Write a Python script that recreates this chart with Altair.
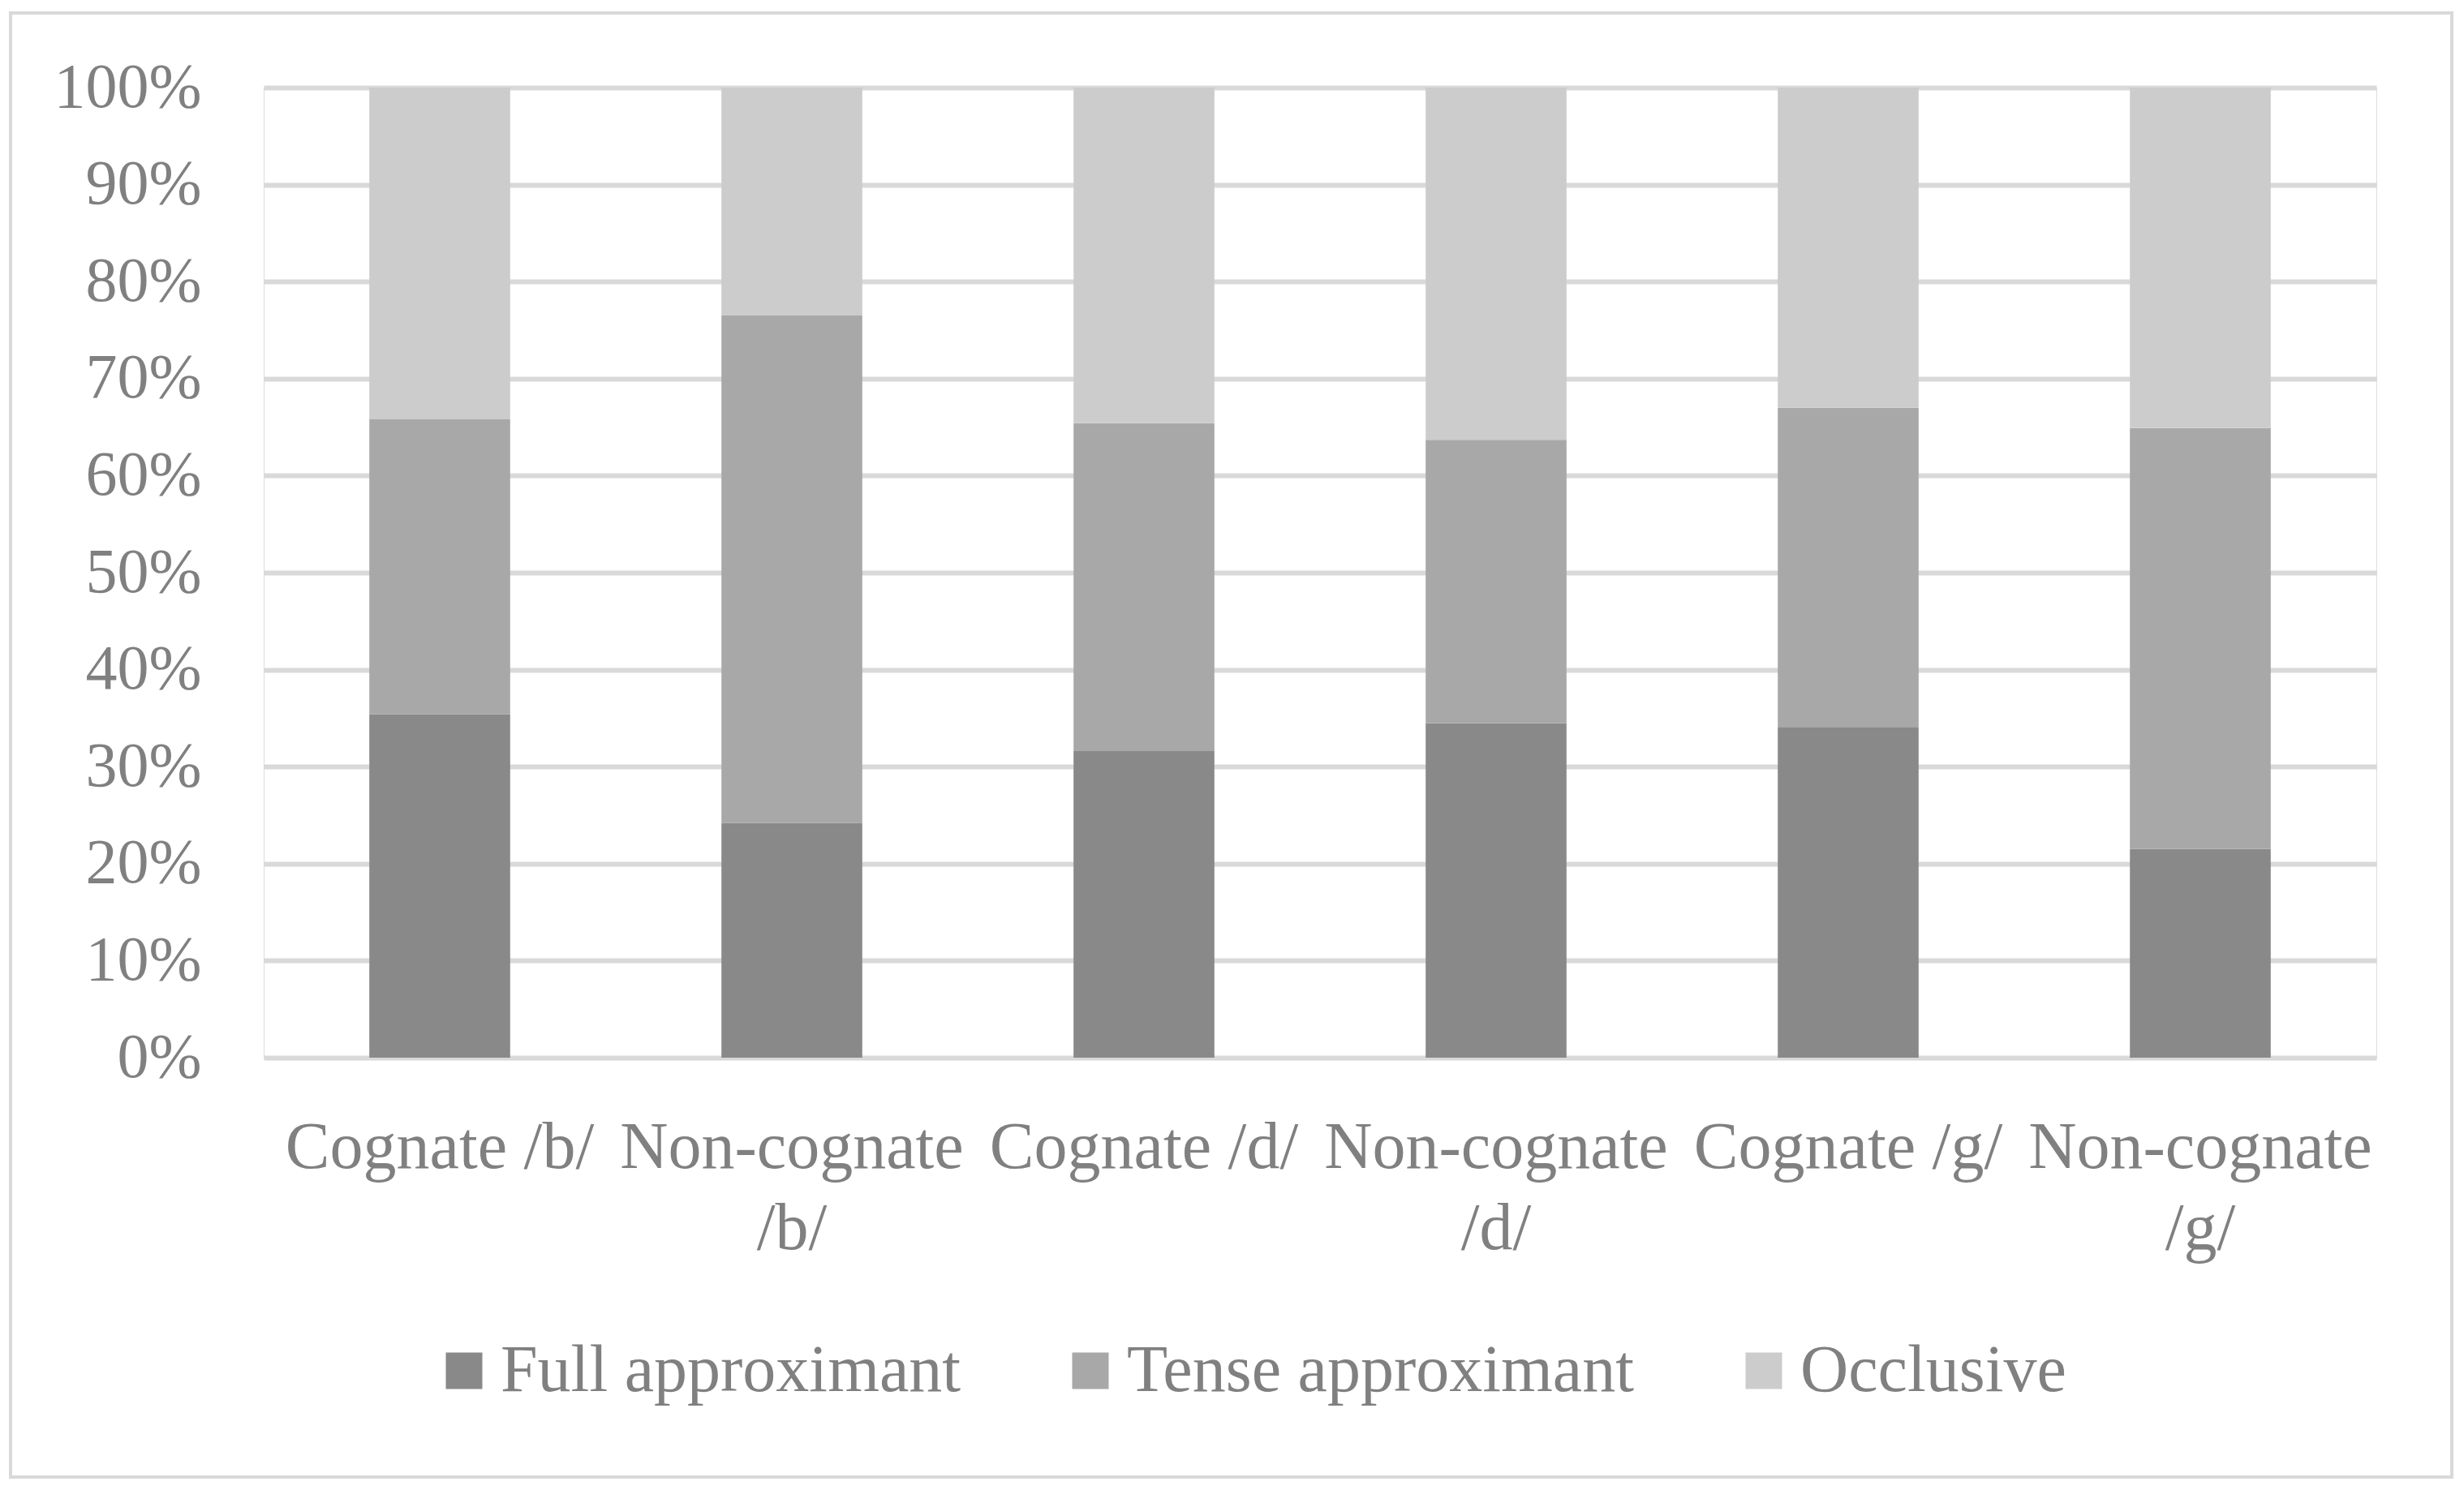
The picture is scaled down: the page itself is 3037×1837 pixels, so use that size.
import altair as alt
import pandas as pd

categories = ["Cognate /b/", "Non-cognate /b/", "Cognate /d/", "Non-cognate /d/", "Cognate /g/", "Non-cognate /g/"]
series = ["Full approximant", "Tense approximant", "Occlusive"]
full_approximant = [35.4, 24.2, 31.6, 34.5, 34.1, 21.5]
tense_approximant = [30.4, 52.3, 33.8, 29.2, 32.9, 43.4]
occlusive = [34.2, 23.5, 34.6, 36.3, 33.0, 35.1]
colors = ["#898989", "#a8a8a8", "#cccccc"]
y_ticks = [0, 10, 20, 30, 40, 50, 60, 70, 80, 90, 100]

rows = []
for s_idx, (name, vals) in enumerate(zip(series, [full_approximant, tense_approximant, occlusive])):
    for cat, v in zip(categories, vals):
        rows.append({"category": cat, "series": name, "value": v, "order": s_idx})
df = pd.DataFrame(rows)

FONT = "Liberation Serif"
TXT = "#808080"
GRID = "#d9d9d9"

bars = alt.Chart(df).mark_bar(stroke=None).encode(
    x=alt.X("category:N", sort=categories,
            scale=alt.Scale(paddingInner=0.6, paddingOuter=0.3),
            axis=alt.Axis(title=None, labelAngle=0, domain=False, ticks=False,
                          labelFont=FONT, labelFontSize=82, labelColor=TXT,
                          labelPadding=70, labelLineHeight=100, labelOverlap=False,
                          labelLimit=1000,
                          labelExpr="indexof(datum.label, 'Non-') == 0 ? split(datum.label, ' ') : datum.label")),
    y=alt.Y("value:Q", stack="zero",
            scale=alt.Scale(domain=[0, 100], nice=False),
            axis=alt.Axis(title=None, values=y_ticks, domain=False, ticks=False,
                          grid=True, gridColor=GRID, gridWidth=6,
                          labelFont=FONT, labelFontSize=78, labelColor=TXT,
                          labelPadding=77, labelLimit=1000,
                          labelExpr="datum.value + '%'")),
    color=alt.Color("series:N", sort=series,
                    scale=alt.Scale(domain=series, range=colors),
                    legend=alt.Legend(title=None, orient="none", direction="horizontal",
                                      legendX=206, legendY=1541, padding=0,
                                      symbolType="square", symbolSize=2025,
                                      symbolStrokeWidth=0, labelOffset=4,
                                      columnPadding=118,
                                      labelFont=FONT, labelFontSize=82, labelColor=TXT,
                                      labelLimit=1000)),
    order=alt.Order("order:Q", sort="ascending"),
)

frame = alt.Chart(alt.Data(values=[{"a": 1}])).mark_rect(
    fill=None, stroke=GRID, strokeWidth=4
).encode(
    x=alt.value(-312), x2=alt.value(2697), y=alt.value(-92), y2=alt.value(1713)
)

chart = alt.layer(bars, frame).properties(
    width=2604, height=1196,
    autosize=alt.AutoSizeParams(type="none"),
    padding={"left": 317, "top": 100, "right": 96, "bottom": 519},
).configure_view(stroke=None).configure(background="white")

chart.save("out.html", embed_options={"renderer": "svg", "actions": False})
